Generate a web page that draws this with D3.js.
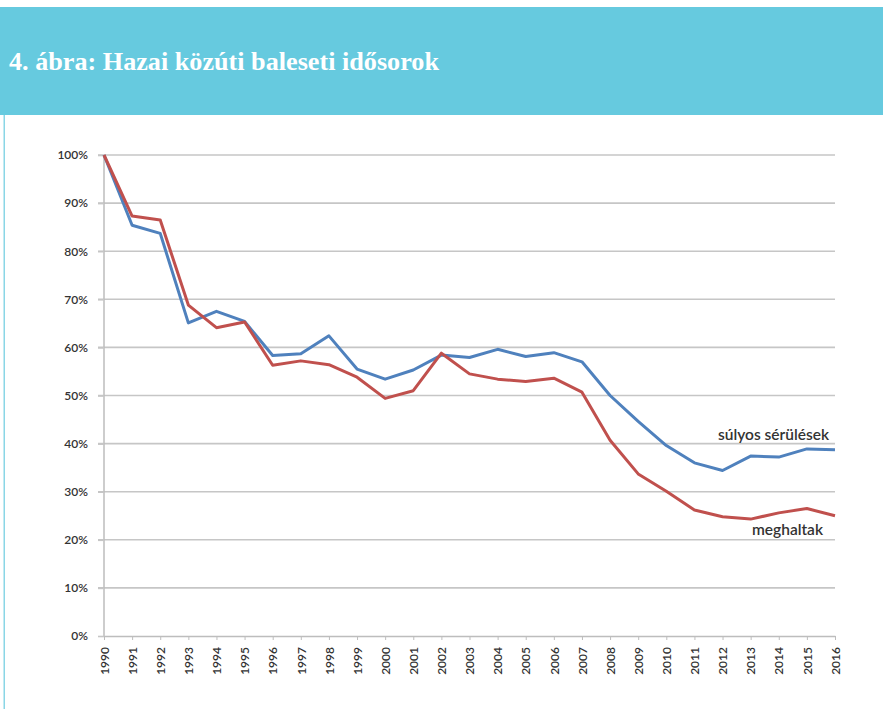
<!DOCTYPE html>
<html><head><meta charset="utf-8">
<script src="https://cdn.jsdelivr.net/npm/d3@7"></script>
<style>body{margin:0;background:#fff;} svg{display:block;}</style>
</head><body>
<svg id="c" width="883" height="709"></svg>
<script>
const title = "4. ábra: Hazai közúti baleseti idősorok";
const years = [1990,1991,1992,1993,1994,1995,1996,1997,1998,1999,2000,2001,2002,2003,2004,2005,2006,2007,2008,2009,2010,2011,2012,2013,2014,2015,2016];
const sulyos = [100,85.4,83.7,65.1,67.5,65.4,58.3,58.7,62.4,55.5,53.4,55.3,58.4,57.9,59.6,58.1,58.9,57.0,50.0,44.6,39.6,36.0,34.4,37.4,37.2,38.9,38.7];
const meghaltak = [100,87.3,86.5,68.8,64.1,65.3,56.3,57.2,56.4,53.8,49.4,51.0,58.8,54.5,53.4,52.9,53.6,50.7,40.7,33.7,30.1,26.2,24.8,24.3,25.6,26.5,25.0];
const yTicks = [0,10,20,30,40,50,60,70,80,90,100];
const seriesLabels = ["súlyos sérülések","meghaltak"];

const svg = d3.select("#c");
// header
svg.append("rect").attr("x",0).attr("y",7).attr("width",883).attr("height",108).attr("fill","#66CADF");
svg.append("rect").attr("x",3.5).attr("y",115).attr("width",1.5).attr("height",594).attr("fill","#8ad6e6");
svg.append("text").attr("x",9).attr("y",70).attr("fill","#fff")
  .attr("font-family","Liberation Serif, DejaVu Serif, serif").attr("font-weight","bold")
  .attr("font-size",26).attr("textLength",430).attr("lengthAdjust","spacingAndGlyphs").text(title);

const x = d3.scalePoint().domain(years).range([104,835]);
const y = d3.scaleLinear().domain([0,100]).range([636,155]);
const g = svg.append("g");
const font = "Lato, 'Open Sans', sans-serif";

// gridlines
g.append("g").selectAll("line").data(yTicks.filter(d=>d>0)).join("line")
  .attr("x1",98).attr("x2",835).attr("y1",d=>y(d)).attr("y2",d=>y(d))
  .attr("stroke","#c6c6c6").attr("stroke-width",1.6);

// y axis
const ya = g.append("g").attr("transform","translate(104,0)")
  .call(d3.axisLeft(y).tickValues(yTicks).tickSize(6).tickPadding(10).tickFormat(d=>d+"%"));
ya.select(".domain").attr("stroke","#bdbdbd").attr("stroke-width",1.5).attr("d","M0,155V636");
ya.selectAll(".tick line").attr("stroke","#c6c6c6").attr("stroke-width",1.6);
ya.selectAll("text").attr("font-family",font).attr("font-size",12).attr("fill","#333").attr("font-weight","600");

// x axis
const xa = g.append("g").attr("transform","translate(0,636)")
  .call(d3.axisBottom(x).tickSize(4).tickSizeOuter(0));
xa.select(".domain").attr("stroke","#bdbdbd").attr("stroke-width",1.5);
xa.selectAll(".tick line").attr("stroke","#bdbdbd");
xa.selectAll("text").attr("font-family",font).attr("font-size",12).attr("fill","#333").attr("font-weight","600")
  .attr("transform","rotate(-90)").attr("text-anchor","end").attr("x",-11).attr("y",0).attr("dy","0.35em");

// lines
const line = d3.line().x((d,i)=>x(years[i])).y(d=>y(d));
g.append("path").datum(sulyos).attr("d",line).attr("fill","none").attr("stroke","#4F81BD").attr("stroke-width",3).attr("stroke-linejoin","round");
g.append("path").datum(meghaltak).attr("d",line).attr("fill","none").attr("stroke","#C0504D").attr("stroke-width",3).attr("stroke-linejoin","round");

// labels
g.append("text").attr("x",829).attr("y",y(40.8)).attr("text-anchor","end").attr("font-family",font)
  .attr("font-size",15.5).attr("fill","#333").attr("font-weight","600").text(seriesLabels[0]);
g.append("text").attr("x",823).attr("y",y(21.1)).attr("text-anchor","end").attr("font-family",font)
  .attr("font-size",15.5).attr("fill","#333").attr("font-weight","600").text(seriesLabels[1]);
</script>
</body></html>
